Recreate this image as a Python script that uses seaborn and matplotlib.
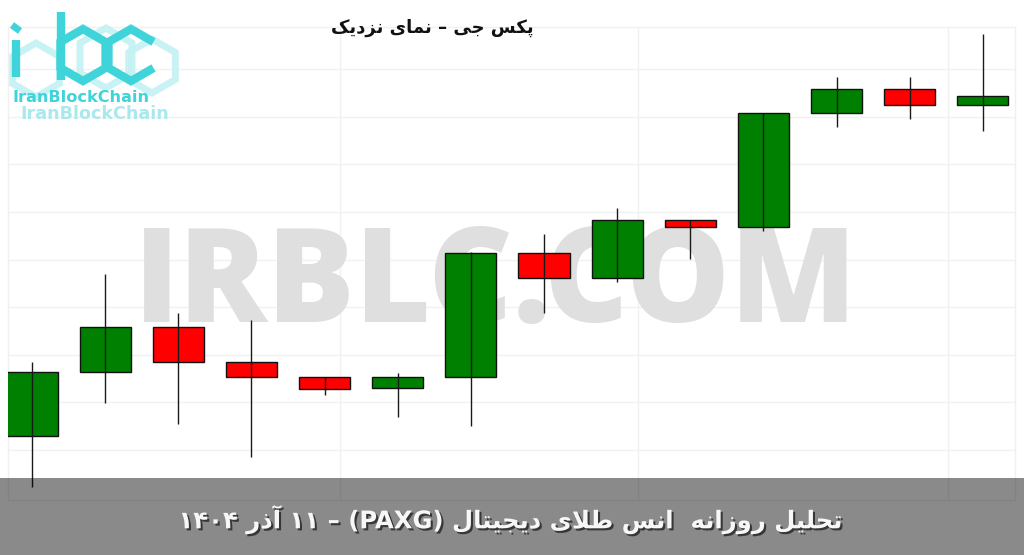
import numpy as np
import pandas as pd
import matplotlib
matplotlib.use("Agg")
import matplotlib.pyplot as plt
import matplotlib.patheffects as pe
from matplotlib.patches import Rectangle, RegularPolygon
import seaborn as sns

# ---------------- data ----------------
dates = ["2025-11-18", "2025-11-19", "2025-11-20", "2025-11-21", "2025-11-22",
         "2025-11-23", "2025-11-24", "2025-11-25", "2025-11-26", "2025-11-27",
         "2025-11-28", "2025-11-29", "2025-11-30", "2025-12-01"]
opens = [4152.9, 4166.4, 4175.8, 4168.4, 4165.4, 4163.0, 4165.4,
         4191.3, 4186.2, 4198.4, 4196.9, 4220.8, 4225.8, 4222.5]
highs = [4168.5, 4187.0, 4178.7, 4177.3, 4165.4, 4166.1, 4191.5,
         4195.4, 4200.8, 4198.4, 4220.9, 4228.3, 4228.3, 4237.4]
lows = [4142.3, 4159.8, 4155.5, 4148.6, 4161.6, 4157.0, 4155.1,
        4178.7, 4185.4, 4190.2, 4196.1, 4217.9, 4219.5, 4217.0]
closes = [4166.4, 4175.8, 4168.4, 4165.4, 4162.8, 4165.4, 4191.3,
          4186.2, 4198.4, 4196.8, 4220.9, 4225.8, 4222.5, 4224.4]
y_ticks = [4150, 4160, 4170, 4180, 4190, 4200, 4210, 4220, 4230]
x_grid = [4.21, 8.28, 12.52]

title_text = "پکس جی – نمای نزدیک"
footer_text = "تحلیل روزانه  انس طلای دیجیتال (PAXG) – ۱۱ آذر ۱۴۰۴"
watermark_text = "IRBLC.COM"
logo_text = "IranBlockChain"

# ---------------- minimal Arabic/Persian shaping ----------------
_FORMS = {
    'ا': ('\uFE8D', '\uFE8E', None, None),
    'آ': ('\uFE81', '\uFE82', None, None),
    'ب': ('\uFE8F', '\uFE90', '\uFE91', '\uFE92'),
    'پ': ('\uFB56', '\uFB57', '\uFB58', '\uFB59'),
    'ت': ('\uFE95', '\uFE96', '\uFE97', '\uFE98'),
    'ج': ('\uFE9D', '\uFE9E', '\uFE9F', '\uFEA0'),
    'ح': ('\uFEA1', '\uFEA2', '\uFEA3', '\uFEA4'),
    'د': ('\uFEA9', '\uFEAA', None, None),
    'ذ': ('\uFEAB', '\uFEAC', None, None),
    'ر': ('\uFEAD', '\uFEAE', None, None),
    'ز': ('\uFEAF', '\uFEB0', None, None),
    'س': ('\uFEB1', '\uFEB2', '\uFEB3', '\uFEB4'),
    'ط': ('\uFEC1', '\uFEC2', '\uFEC3', '\uFEC4'),
    'ک': ('\uFB8E', '\uFB8F', '\uFB90', '\uFB91'),
    'ل': ('\uFEDD', '\uFEDE', '\uFEDF', '\uFEE0'),
    'م': ('\uFEE1', '\uFEE2', '\uFEE3', '\uFEE4'),
    'ن': ('\uFEE5', '\uFEE6', '\uFEE7', '\uFEE8'),
    'و': ('\uFEED', '\uFEEE', None, None),
    'ه': ('\uFEE9', '\uFEEA', '\uFEEB', '\uFEEC'),
    'ی': ('\uFBFC', '\uFBFD', '\uFBFE', '\uFBFF'),
}
_LAM_ALEF = {'ا': ('\uFEFB', '\uFEFC'), 'آ': ('\uFEF5', '\uFEF6')}


def _shape_word(w):
    letters = []
    i = 0
    while i < len(w):
        c = w[i]
        if c == 'ل' and i + 1 < len(w) and w[i + 1] in _LAM_ALEF:
            letters.append(('LA', w[i + 1]))
            i += 2
        else:
            letters.append((c, None))
            i += 1

    def joinable(t):
        return t[0] == 'LA' or t[0] in _FORMS

    def joins_forward(t):
        return t[0] in _FORMS and _FORMS[t[0]][2] is not None

    out = []
    for k, t in enumerate(letters):
        prev = letters[k - 1] if k > 0 else None
        nxt = letters[k + 1] if k + 1 < len(letters) else None
        jp = prev is not None and joins_forward(prev) and joinable(t)
        if t[0] == 'LA':
            out.append(_LAM_ALEF[t[1]][1 if jp else 0])
            continue
        if t[0] not in _FORMS:
            out.append(t[0])
            continue
        f = _FORMS[t[0]]
        jn = f[2] is not None and nxt is not None and joinable(nxt)
        if jp and jn:
            out.append(f[3])
        elif jp:
            out.append(f[1])
        elif jn:
            out.append(f[2])
        else:
            out.append(f[0])
    return ''.join(reversed(out))


def rtl(text):
    toks = text.split(' ')
    vis = [_shape_word(t) if any(ch in _FORMS for ch in t) else t for t in toks]
    return ' '.join(reversed(vis))


# ---------------- figure ----------------
sns.set_theme(style="whitegrid")
plt.rcParams['font.family'] = ['DejaVu Sans']

W, H = 1024, 555
fig = plt.figure(figsize=(W / 100, H / 100), dpi=100)
fig.patch.set_facecolor("white")

ax = fig.add_axes([8 / W, 1 - 500 / H, 1007 / W, 473 / H])
ax.set_facecolor("white")

df = pd.DataFrame({"date": dates, "open": opens, "high": highs,
                   "low": lows, "close": closes})
df["x"] = np.arange(len(df))
df["up"] = df["close"] >= df["open"]
df["bottom"] = df[["open", "close"]].min(axis=1)
df["body"] = (df["close"] - df["open"]).abs()

ax.bar(df["x"], df["body"], bottom=df["bottom"], width=0.7,
       color=np.where(df["up"], "#008000", "#ff0000"),
       edgecolor="#111111", linewidth=1.0, zorder=3)
ax.vlines(df["x"], df["low"], df["high"], color="#1a1a1a", linewidth=1.0, zorder=4)

ax.set_xlim(-0.328, 13.44)
ax.set_ylim(4139.5, 4238.87)
ax.set_yticks(y_ticks)
ax.set_xticks(x_grid)
ax.set_xticklabels([])
ax.set_yticklabels([])
ax.tick_params(length=0)
ax.grid(True, color="#f1f1f1", linewidth=1.0)
ax.set_axisbelow(True)
for s in ax.spines.values():
    s.set_color("#f0f0f0")
    s.set_linewidth(1.0)

# watermark (above grid, below candles)
ax.text(496 / W, 1 - 288 / H, watermark_text, transform=fig.transFigure,
        ha="center", va="center", fontsize=94, fontweight="heavy",
        family=["Open Sans", "DejaVu Sans"], color="#dfdfdf", zorder=2, clip_on=False)

# title
fig.text(432 / W, 1 - 28 / H, rtl(title_text), ha="center", va="center",
         fontsize=13, fontweight="bold", family=["DejaVu Sans"], color="#111111")

# ---------------- logo ----------------
lax = fig.add_axes([0, 1 - 125 / H, 190 / W, 125 / H])
lax.set_xlim(0, 190)
lax.set_ylim(125, 0)
lax.axis("off")
lax.patch.set_alpha(0)
light = "#c4f1f3"
cyan = "#3fd4d9"
for cx, cy, r in [(36, 70, 27), (152, 66, 27), (106, 58, 30)]:
    lax.add_patch(RegularPolygon((cx, cy), 6, radius=r, fill=False,
                                 edgecolor=light, linewidth=5, alpha=0.9))
lax.plot([16, 16], [40, 77], color=cyan, lw=6, solid_capstyle="butt")
lax.plot([12, 20], [25, 31], color=cyan, lw=5, solid_capstyle="butt")
lax.plot([61, 61], [12, 80], color=cyan, lw=6, solid_capstyle="butt")
lax.add_patch(RegularPolygon((83, 55), 6, radius=26, fill=False,
                             edgecolor=cyan, linewidth=6))
angs = np.deg2rad([30, 90, 150, 210, 270, 330])
lax.plot(131 + 26 * np.cos(angs), 55 - 26 * np.sin(angs), color=cyan, lw=6,
         solid_joinstyle="miter", solid_capstyle="butt")
lax.text(12, 97, logo_text, ha="left", va="center", fontsize=11.6,
         fontweight="bold", family=["DejaVu Sans"], color=cyan)
lax.text(20, 114, logo_text, ha="left", va="center", fontsize=12.6,
         fontweight="bold", family=["DejaVu Sans"], color="#a9e9ed")

# ---------------- footer band ----------------
fig.add_artist(Rectangle((0, 0), 1, 77 / H, transform=fig.transFigure,
                         facecolor="black", alpha=0.46, edgecolor="none", zorder=10))
fig.text(510 / W, 1 - 520 / H, rtl(footer_text), ha="center", va="center",
         fontsize=17.5, fontweight="bold", family=["DejaVu Sans"], color="#f7f7f7",
         zorder=11,
         path_effects=[pe.withSimplePatchShadow(offset=(1.5, -1.5),
                                                shadow_rgbFace="black", alpha=0.6)])

fig.savefig("out.png", dpi=100, facecolor="white")
